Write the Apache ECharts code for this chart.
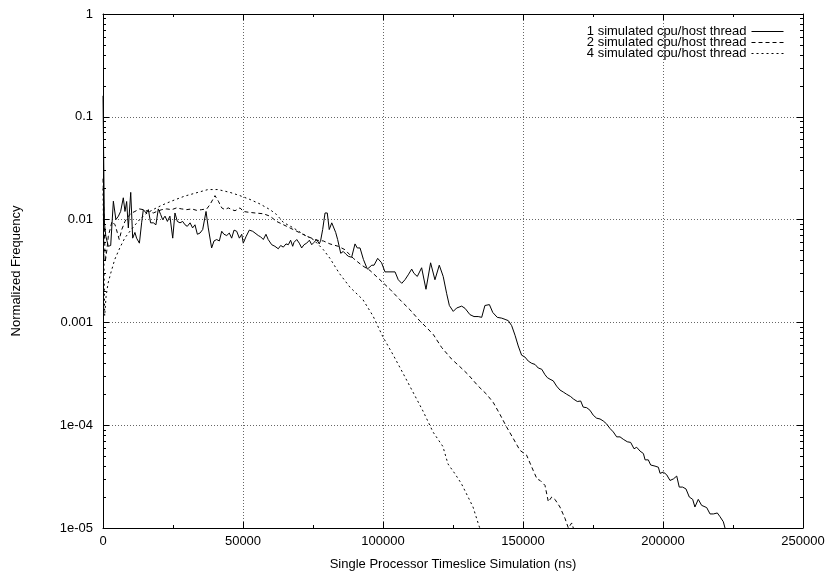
<!DOCTYPE html>
<html><head><meta charset="utf-8">
<script src="https://cdn.jsdelivr.net/npm/echarts@6/dist/echarts.min.js"></script>
<style>html,body{margin:0;padding:0;background:#fff}#c{width:831px;height:579px}</style>
</head><body><div id="c"></div>
<script>
var seriesNames = ['1 simulated cpu/host thread','2 simulated cpu/host thread','4 simulated cpu/host thread'];
var xTickLabels = ['0','50000','100000','150000','200000','250000'];
var yTickLabels = ['1e-05','1e-04','0.001','0.01','0.1','1'];

var thread1 = [[0,0.16],[500,0.0093],[1000,0.0069],[1900,0.0055],[2750,0.0056],[3700,0.0151],[4600,0.0100],[5500,0.0108],[6300,0.0120],[7250,0.0163],[7850,0.0120],[8450,0.0150],[9050,0.0083],[9900,0.0184],[10600,0.0066],[11400,0.0075],[12000,0.0066],[13000,0.0059],[13800,0.0093],[14400,0.0125],[15400,0.0116],[16200,0.0125],[17000,0.0093],[18000,0.0093],[18900,0.0089],[19750,0.0127],[20600,0.0112],[21300,0.0100],[22150,0.0108],[23000,0.0096],[23900,0.0108],[24900,0.0066],[25700,0.0116],[26550,0.0096],[27500,0.0093],[28450,0.0096],[29300,0.0089],[30100,0.0086],[31100,0.0093],[32000,0.0083],[32850,0.0089],[33700,0.0072],[34650,0.0074],[35600,0.0080],[36800,0.0120],[37600,0.0083],[38800,0.0053],[39650,0.0062],[40600,0.0064],[41550,0.0062],[42400,0.0077],[43200,0.0072],[44200,0.0070],[45100,0.0074],[45950,0.0066],[46800,0.0079],[47750,0.0077],[48700,0.0066],[49550,0.0072],[50100,0.0059],[51050,0.0068],[52250,0.0079],[53450,0.0077],[54300,0.0074],[55450,0.0070],[56300,0.0068],[57250,0.0064],[58200,0.0072],[59000,0.0064],[60250,0.0057],[61400,0.0055],[62600,0.0052],[63450,0.0056],[64400,0.0054],[65350,0.0058],[66200,0.0057],[67000,0.0063],[67750,0.0055],[68200,0.0060],[69200,0.0064],[70100,0.0059],[70950,0.0053],[71800,0.0057],[72750,0.0059],[73700,0.0063],[74550,0.0057],[75350,0.0060],[76300,0.0064],[77250,0.0058],[77750,0.0063],[78450,0.0080],[79300,0.0116],[80100,0.0116],[80800,0.0080],[81700,0.0093],[82250,0.0091],[83100,0.0075],[83800,0.0064],[84900,0.0047],[85800,0.0049],[86800,0.0046],[87600,0.0044],[88800,0.0043],[90000,0.0058],[90800,0.0053],[91800,0.0053],[93000,0.0041],[94400,0.0033],[96000,0.0036],[96800,0.0036],[98100,0.0042],[99500,0.0038],[100700,0.0031],[102500,0.0031],[104300,0.0031],[105450,0.0026],[106700,0.0024],[107850,0.0026],[109000,0.0029],[110250,0.0033],[111050,0.0030],[112250,0.0028],[113800,0.0034],[115350,0.0021],[117000,0.0038],[118550,0.0026],[120100,0.0036],[121500,0.0028],[122750,0.0019],[123700,0.00146],[125100,0.00128],[126300,0.00138],[128100,0.00144],[129300,0.00137],[131050,0.00119],[132500,0.00114],[134000,0.00114],[135250,0.00112],[136400,0.00146],[138000,0.00149],[139200,0.00125],[140800,0.00112],[142400,0.00110],[143600,0.00107],[144750,0.00104],[145950,0.00093],[147150,0.00075],[148300,0.00059],[149500,0.00048],[150700,0.00046],[151900,0.00042],[153100,0.00040],[154300,0.00039],[155450,0.00036],[156700,0.00035],[157850,0.00031],[158700,0.00029],[159650,0.00028],[160800,0.00027],[162000,0.00024],[163200,0.00022],[164400,0.00021],[165600,0.00020],[167000,0.00019],[168000,0.00018],[169400,0.00017],[170600,0.000172],[171500,0.00015],[172750,0.000148],[173900,0.00014],[175100,0.000125],[176300,0.000117],[177500,0.000115],[178650,0.00011],[179850,0.000103],[181050,0.000093],[182250,0.000086],[183450,0.000077],[184650,0.000077],[185800,0.000073],[187250,0.000069],[188450,0.000068],[189650,0.000059],[190600,0.000061],[191800,0.000056],[193000,0.000053],[193600,0.000046],[194750,0.000046],[195600,0.000041],[197150,0.000040],[198350,0.000039],[198950,0.000034],[200100,0.000035],[201300,0.000033],[202500,0.000029],[203700,0.000030],[204900,0.000032],[205800,0.000025],[207000,0.000025],[208200,0.000024],[209400,0.000020],[210600,0.000019],[211400,0.000016],[212600,0.000019],[213800,0.0000166],[215600,0.0000158],[216800,0.0000137],[218000,0.0000137],[219400,0.000014],[220350,0.0000129],[221550,0.0000115],[222150,0.00001],[222700,0.0000088]];

var thread2 = [[0,0.025],[800,0.0039],[1400,0.0051],[1900,0.0069],[2500,0.0080],[3200,0.0096],[4300,0.0089],[5100,0.0075],[5800,0.0064],[6700,0.0080],[7850,0.0096],[9050,0.0108],[10250,0.0116],[11400,0.0120],[13000,0.0127],[14400,0.0125],[16200,0.0120],[18000,0.0116],[19200,0.0120],[21000,0.0125],[22750,0.0127],[24550,0.0125],[26300,0.0130],[28100,0.0127],[29900,0.0125],[31700,0.0127],[33450,0.0123],[35250,0.0125],[37050,0.0127],[38200,0.0140],[40000,0.0171],[41200,0.0151],[42400,0.0130],[43550,0.0125],[44750,0.0130],[45950,0.0125],[47150,0.0122],[48950,0.0130],[50100,0.0120],[51900,0.0118],[54300,0.0116],[57250,0.0114],[59650,0.0108],[62000,0.0096],[65600,0.0086],[69200,0.0077],[72750,0.0069],[76300,0.0063],[78700,0.0062],[81050,0.0058],[84000,0.0055],[86400,0.0051],[89400,0.0042],[92400,0.0036],[95350,0.0032],[98900,0.0026],[102500,0.0021],[106050,0.00166],[109600,0.00133],[113200,0.00103],[115600,0.00089],[118000,0.00076],[120950,0.00057],[124500,0.00044],[127500,0.00037],[130450,0.00031],[134000,0.00024],[137000,0.00020],[139400,0.000166],[141800,0.000127],[144150,0.000096],[146550,0.000074],[148900,0.000057],[151300,0.000051],[153700,0.000036],[155000,0.000030],[156100,0.000029],[157850,0.000026],[159050,0.000018],[160250,0.000020],[161400,0.000019],[163200,0.000016],[165000,0.0000124],[166200,0.00001],[167400,0.0000112],[168500,0.000009]];

var thread4 = [[0,0.02],[600,0.00116],[1100,0.0018],[1800,0.0024],[2750,0.0030],[4200,0.0041],[6000,0.0053],[7750,0.0066],[10100,0.0080],[12500,0.0096],[14900,0.0112],[17850,0.0125],[21000,0.0138],[24400,0.0151],[29100,0.0169],[33900,0.0184],[37500,0.0196],[38100,0.0198],[41050,0.0196],[45350,0.0184],[48900,0.0171],[52500,0.0157],[56050,0.0142],[59650,0.0125],[62000,0.0112],[64400,0.0094],[68000,0.0083],[71550,0.0072],[75100,0.0064],[78700,0.0051],[81050,0.0042],[84400,0.0030],[88200,0.0022],[92850,0.00166],[96400,0.00116],[100000,0.00072],[103500,0.00049],[107150,0.00032],[110700,0.00021],[114300,0.000137],[117850,0.000086],[121400,0.000062],[123200,0.000042],[125600,0.000034],[128000,0.000027],[130400,0.000020],[132150,0.000016],[133950,0.0000112],[134550,0.00001],[135000,0.000009]];

// minor tick positions on the log axis (2..9 within each decade)
var yMinor = [];
for (var e = -5; e < 0; e++) { for (var m = 2; m <= 9; m++) { yMinor.push(m * Math.pow(10, e)); } }

var FONT = "'Liberation Sans', Arial, sans-serif";
var chart = echarts.init(document.getElementById('c'), null, {renderer: 'canvas'});

function yLab(v) { var i = Math.round(Math.log10(v)) + 5; return yTickLabels[i] !== undefined ? yTickLabels[i] : ''; }
function xLab(v) { var i = Math.round(v / 50000); return xTickLabels[i] !== undefined ? xTickLabels[i] : ''; }

function axisLine() { return {show: true, onZero: false, lineStyle: {color: '#000', width: 1}}; }
function gridLine() { return {show: true, lineStyle: {color: '#666', type: [1, 2], width: 1}}; }
function majorTick() { return {show: true, inside: true, length: 6, lineStyle: {color: '#000'}}; }
function xMinorTick() { return {show: true, splitNumber: 2, length: 3, lineStyle: {color: '#000'}}; }
function yMinorTick() { return {show: true, inside: true, length: 3, customValues: yMinor.slice(), lineStyle: {color: '#000'}}; }

function yAx(extra) { return Object.assign({type: 'log', logBase: 10, min: 0.00001, max: 1, axisLabel: {show: false}, splitLine: {show: false}}, extra); }
function xAx(extra) { return Object.assign({type: 'value', min: 0, max: 250000, interval: 50000, axisLabel: {show: false}, splitLine: {show: false}}, extra); }

var option = {
  backgroundColor: '#fff',
  animation: false,
  textStyle: {fontFamily: FONT},
  grid: {left: 103, right: 28, top: 14, bottom: 51, containLabel: false},
  legend: {
    data: seriesNames, orient: 'vertical', right: 42, top: 20, align: 'right',
    itemWidth: 32, itemHeight: 10, itemGap: -2, selectedMode: false,
    itemStyle: {opacity: 0},
    lineStyle: {width: 1},
    textStyle: {fontFamily: FONT, fontSize: 13, color: '#000', lineHeight: 11.5}
  },
  xAxis: [
    xAx({position: 'bottom', name: 'Single Processor Timeslice Simulation (ns)', nameLocation: 'middle', nameGap: 30,
      nameTextStyle: {fontFamily: FONT, fontSize: 13, color: '#000'},
      axisLine: axisLine(), axisTick: majorTick(), minorTick: xMinorTick(),
      axisLabel: {show: true, formatter: xLab, margin: 7, fontFamily: FONT, fontSize: 13, color: '#000'},
      splitLine: gridLine()}),
    xAx({position: 'top', axisLine: axisLine(), axisTick: majorTick(), minorTick: xMinorTick()})
  ],
  yAxis: [
    yAx({position: 'left', name: 'Normalized Frequency', nameLocation: 'middle', nameGap: 80, nameRotate: 90,
      nameTextStyle: {fontFamily: FONT, fontSize: 13, color: '#000'},
      axisLine: axisLine(), axisTick: majorTick(),
      axisLabel: {show: true, formatter: yLab, margin: 10, fontFamily: FONT, fontSize: 13, color: '#000'},
      splitLine: gridLine()}),
    yAx({position: 'right', axisLine: axisLine(), axisTick: majorTick()}),
    yAx({position: 'left', offset: 0, axisLine: {show: true, onZero: false, lineStyle: {color: 'rgba(0,0,0,0)', width: 1}}, axisTick: yMinorTick()}),
    yAx({position: 'right', offset: 0, axisLine: {show: true, onZero: false, lineStyle: {color: 'rgba(0,0,0,0)', width: 1}}, axisTick: yMinorTick()})
  ],
  series: [
    {name: seriesNames[0], type: 'line', xAxisIndex: 0, yAxisIndex: 0, data: thread1, symbol: 'none', clip: true,
     lineStyle: {color: '#000', width: 1, type: 'solid'}, itemStyle: {color: '#000'}},
    {name: seriesNames[1], type: 'line', xAxisIndex: 0, yAxisIndex: 0, data: thread2, symbol: 'none', clip: true,
     lineStyle: {color: '#000', width: 1, type: [4, 3]}, itemStyle: {color: '#000'}},
    {name: seriesNames[2], type: 'line', xAxisIndex: 0, yAxisIndex: 0, data: thread4, symbol: 'none', clip: true,
     lineStyle: {color: '#000', width: 1, type: [2, 3]}, itemStyle: {color: '#000'}}
  ]
};
chart.setOption(option);
</script></body></html>
